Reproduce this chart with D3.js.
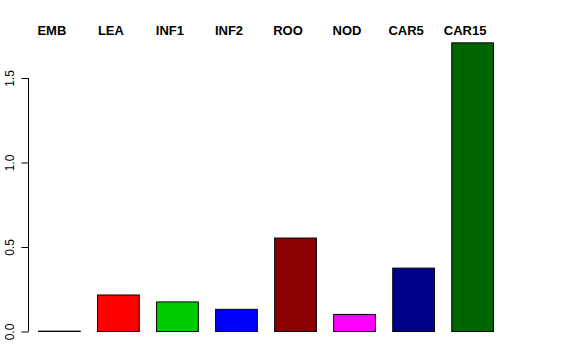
<!DOCTYPE html>
<html>
<head>
<meta charset="utf-8">
<script src="https://cdn.jsdelivr.net/npm/d3@7"></script>
<style>
  body { margin: 0; background: #fff; }
  svg { display: block; }
</style>
</head>
<body>
<script>
var svgWidth = 576;
var svgHeight = 360;

// data
var tissues = ["EMB", "LEA", "INF1", "INF2", "ROO", "NOD", "CAR5", "CAR15"];
var values = [0.002, 0.216, 0.175, 0.131, 0.553, 0.101, 0.375, 1.708];
var colours = ["#000000", "#ff0000", "#00cd00", "#0000ff", "#8b0000", "#ff00ff", "#00008b", "#006400"];
var yTicks = [0.0, 0.5, 1.0, 1.5];

var svg = d3.select("body").append("svg")
    .attr("width", svgWidth).attr("height", svgHeight);

var x = d3.scaleBand()
    .domain(tissues)
    .range([38.5, 493.5])
    .paddingInner(0.293)
    .paddingOuter(0);

var y = d3.scaleLinear()
    .domain([0, 1.5])
    .range([331.5, 78]);

// bars
svg.selectAll("rect.bar").data(tissues).join("rect")
    .attr("class", "bar")
    .attr("x", function(d) { return x(d); })
    .attr("width", x.bandwidth())
    .attr("y", function(d, i) { return y(values[i]); })
    .attr("height", function(d, i) { return y(0) - y(values[i]); })
    .attr("fill", function(d, i) { return colours[i]; })
    .attr("stroke", "#000")
    .attr("stroke-width", 1);

// labels over the plot
svg.selectAll("text.lab").data(tissues).join("text")
    .attr("class", "lab")
    .attr("x", function(d) { return x(d) + x.bandwidth() / 2 - 7.5; })
    .attr("y", 35)
    .attr("text-anchor", "middle")
    .attr("font-family", "Liberation Sans, Arial, sans-serif")
    .attr("font-weight", "bold")
    .attr("font-size", 13)
    .text(function(d) { return d; });

// y axis, R style
var axis = d3.axisLeft(y)
    .tickValues(yTicks)
    .tickFormat(d3.format(".1f"))
    .tickSize(7)
    .tickPadding(4);

var gy = svg.append("g")
    .attr("transform", "translate(28.5,0)")
    .call(axis);

gy.select(".domain").attr("d", "M0," + y(0) + "V" + y(1.5)).attr("stroke", "#000");
gy.selectAll(".tick line").attr("stroke", "#000");
gy.selectAll(".tick text")
    .attr("font-family", "Liberation Sans, Arial, sans-serif")
    .attr("font-size", 12)
    .attr("fill", "#000")
    .attr("transform", "rotate(-90)")
    .attr("text-anchor", "middle")
    .attr("x", 0)
    .attr("y", -15)
    .attr("dy", 0);
</script>
</body>
</html>
